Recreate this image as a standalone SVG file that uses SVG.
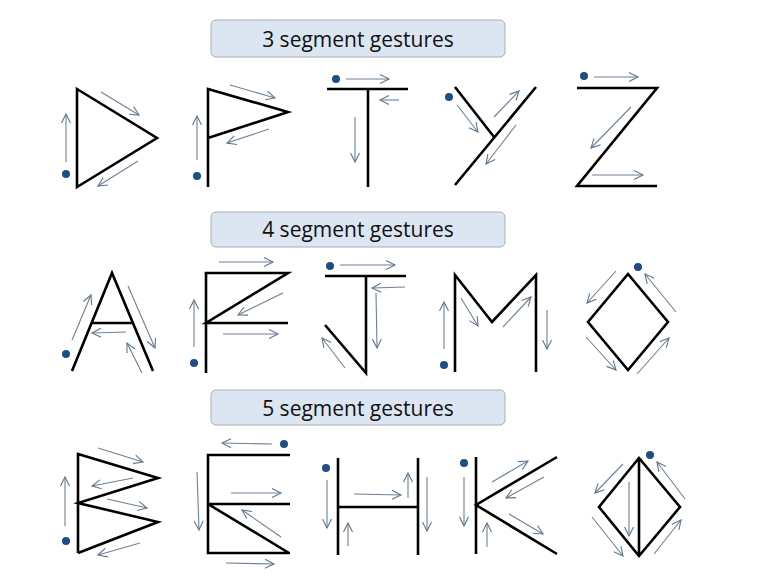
<svg xmlns="http://www.w3.org/2000/svg" width="773" height="588" viewBox="0 0 773 588">
<defs>
<marker id="ah" markerUnits="userSpaceOnUse" markerWidth="12" markerHeight="12" viewBox="0 0 12 12" refX="10" refY="6" orient="auto">
<path d="M1,1.5 L10,6 L1,10.5" fill="none" stroke="#5F7690" stroke-width="1.1"/>
</marker>
</defs>
<style>
.box{fill:#DCE6F2;stroke:#A6AEB8;stroke-width:1}
.title{font-family:"Open Sans","Liberation Sans",sans-serif;font-size:21px;fill:#111;text-anchor:middle}
.g{fill:none;stroke:#000;stroke-width:2.6;stroke-linejoin:miter;stroke-linecap:butt}
.a{fill:none;stroke:#6E8097;stroke-width:1.1;marker-end:url(#ah)}
.dot{fill:#1F4E84}
</style>
<g id="title3">
<rect class="box" x="211" y="20" width="294" height="37" rx="5"/>
<text class="title" x="358" y="47">3 segment gestures</text>
</g>
<g id="title4">
<rect class="box" x="211" y="212" width="294" height="35" rx="5"/>
<text class="title" x="358" y="237">4 segment gestures</text>
</g>
<g id="title5">
<rect class="box" x="211" y="390" width="294" height="35" rx="5"/>
<text class="title" x="358" y="416">5 segment gestures</text>
</g>

<g id="D">
<path class="g" d="M77,89 L157,138 L77,187 Z"/>
<circle class="dot" cx="66" cy="174" r="4"/>
</g>
<g id="P">
<path class="g" d="M208,187 L208,89 L288,112 L208,138"/>
<circle class="dot" cx="197" cy="176" r="4"/>
</g>
<g id="T">
<path class="g" d="M327,89 L408,89 M368,89 L368,187"/>
<circle class="dot" cx="336" cy="79" r="4"/>
</g>
<g id="Y">
<path class="g" d="M455,87 L494,137 M536,87 L455,185"/>
<circle class="dot" cx="449" cy="97" r="4"/>
</g>
<g id="Z">
<path class="g" d="M577,88 L657,88 L577,186 L657,186"/>
<circle class="dot" cx="584" cy="76" r="4"/>
</g>

<g id="A">
<path class="g" d="M72,371 L112,273 L153,371 M91,323 L133,323"/>
<circle class="dot" cx="66" cy="354" r="4"/>
</g>
<g id="F">
<path class="g" d="M206,373 L206,273 L288,273 L206,323 L288,323"/>
<circle class="dot" cx="194" cy="363" r="4"/>
</g>
<g id="J">
<path class="g" d="M325,276 L406,276 M366,276 L366,373 L325,325"/>
<circle class="dot" cx="330" cy="266" r="4"/>
</g>
<g id="M">
<path class="g" d="M455,372 L455,275 L492,322 L536,275 L536,372"/>
<circle class="dot" cx="444" cy="365" r="4"/>
</g>
<g id="O">
<path class="g" d="M628,274 L668,322 L628,370 L588,322 Z"/>
<circle class="dot" cx="638" cy="267" r="4"/>
</g>

<g id="B">
<path class="g" d="M78,553 L78,454 L158,478 L78,503 L158,522 L78,553"/>
<circle class="dot" cx="66" cy="541" r="4"/>
</g>
<g id="E">
<path class="g" d="M290,455 L208,455 L208,553 L290,553 M208,504 L290,504 M208,504 L289,553"/>
<circle class="dot" cx="284" cy="444" r="4"/>
</g>
<g id="H">
<path class="g" d="M338,458 L338,555 M418,458 L418,555 M338,507 L418,507"/>
<circle class="dot" cx="326" cy="468" r="4"/>
</g>
<g id="K">
<path class="g" d="M476,457 L476,554 M557,457 L476,505 L557,554"/>
<circle class="dot" cx="464" cy="463" r="4"/>
</g>
<g id="Odiv">
<path class="g" d="M639,458 L680,507 L639,556 L599,507 Z M639,458 L639,556"/>
<circle class="dot" cx="650" cy="455" r="4"/>
</g>

<g id="connectors">
<!-- D -->
<line class="a" x1="66" y1="162" x2="66" y2="114"/>
<line class="a" x1="101" y1="92" x2="139" y2="115"/>
<line class="a" x1="138" y1="161" x2="98" y2="186"/>
<!-- P -->
<line class="a" x1="197" y1="160" x2="197" y2="116"/>
<line class="a" x1="230" y1="85" x2="275" y2="98"/>
<line class="a" x1="269" y1="129" x2="227" y2="143"/>
<!-- T -->
<line class="a" x1="346" y1="79" x2="389" y2="79"/>
<line class="a" x1="399" y1="100" x2="380" y2="100"/>
<line class="a" x1="355" y1="117" x2="355" y2="162"/>
<!-- Y -->
<line class="a" x1="457" y1="105" x2="478" y2="132"/>
<line class="a" x1="494" y1="117" x2="519" y2="91"/>
<line class="a" x1="516" y1="125" x2="486" y2="164"/>
<!-- Z -->
<line class="a" x1="594" y1="77" x2="638" y2="77"/>
<line class="a" x1="631" y1="107" x2="591" y2="148"/>
<line class="a" x1="592" y1="175" x2="643" y2="175"/>
<!-- A -->
<line class="a" x1="72" y1="340" x2="91" y2="295"/>
<line class="a" x1="128" y1="286" x2="155" y2="348"/>
<line class="a" x1="126" y1="332" x2="92" y2="333"/>
<line class="a" x1="142" y1="373" x2="127" y2="343"/>
<!-- F -->
<line class="a" x1="194" y1="347" x2="194" y2="300"/>
<line class="a" x1="219" y1="262" x2="273" y2="262"/>
<line class="a" x1="283" y1="293" x2="238" y2="315"/>
<line class="a" x1="223" y1="334" x2="278" y2="334"/>
<!-- J -->
<line class="a" x1="340" y1="265" x2="395" y2="265"/>
<line class="a" x1="405" y1="287" x2="372" y2="288"/>
<line class="a" x1="376" y1="293" x2="377" y2="348"/>
<line class="a" x1="345" y1="368" x2="322" y2="338"/>
<!-- M -->
<line class="a" x1="444" y1="349" x2="444" y2="302"/>
<line class="a" x1="461" y1="298" x2="478" y2="326"/>
<line class="a" x1="503" y1="327" x2="531" y2="297"/>
<line class="a" x1="547" y1="310" x2="547" y2="349"/>
<!-- O -->
<line class="a" x1="616" y1="271" x2="587" y2="303"/>
<line class="a" x1="586" y1="337" x2="616" y2="370"/>
<line class="a" x1="637" y1="374" x2="669" y2="338"/>
<line class="a" x1="676" y1="312" x2="645" y2="274"/>
<!-- B -->
<line class="a" x1="65" y1="526" x2="65" y2="477"/>
<line class="a" x1="98" y1="448" x2="143" y2="462"/>
<line class="a" x1="133" y1="478" x2="92" y2="486"/>
<line class="a" x1="107" y1="499" x2="147" y2="508"/>
<line class="a" x1="140" y1="543" x2="98" y2="555"/>
<!-- E -->
<line class="a" x1="272" y1="444" x2="222" y2="443"/>
<line class="a" x1="197" y1="472" x2="199" y2="530"/>
<line class="a" x1="231" y1="493" x2="281" y2="493"/>
<line class="a" x1="281" y1="537" x2="242" y2="510"/>
<line class="a" x1="226" y1="563" x2="274" y2="564"/>
<!-- H -->
<line class="a" x1="327" y1="480" x2="327" y2="528"/>
<line class="a" x1="348" y1="546" x2="348" y2="523"/>
<line class="a" x1="354" y1="494" x2="401" y2="495"/>
<line class="a" x1="408" y1="498" x2="408" y2="473"/>
<line class="a" x1="427" y1="477" x2="427" y2="531"/>
<!-- K -->
<line class="a" x1="464" y1="477" x2="464" y2="526"/>
<line class="a" x1="487" y1="547" x2="487" y2="523"/>
<line class="a" x1="492" y1="482" x2="528" y2="461"/>
<line class="a" x1="544" y1="477" x2="506" y2="498"/>
<line class="a" x1="509" y1="514" x2="543" y2="534"/>
<!-- Odiv -->
<line class="a" x1="623" y1="464" x2="595" y2="493"/>
<line class="a" x1="629" y1="482" x2="629" y2="536"/>
<line class="a" x1="592" y1="517" x2="623" y2="556"/>
<line class="a" x1="654" y1="554" x2="681" y2="520"/>
<line class="a" x1="685" y1="499" x2="657" y2="462"/>
</g>
</svg>
